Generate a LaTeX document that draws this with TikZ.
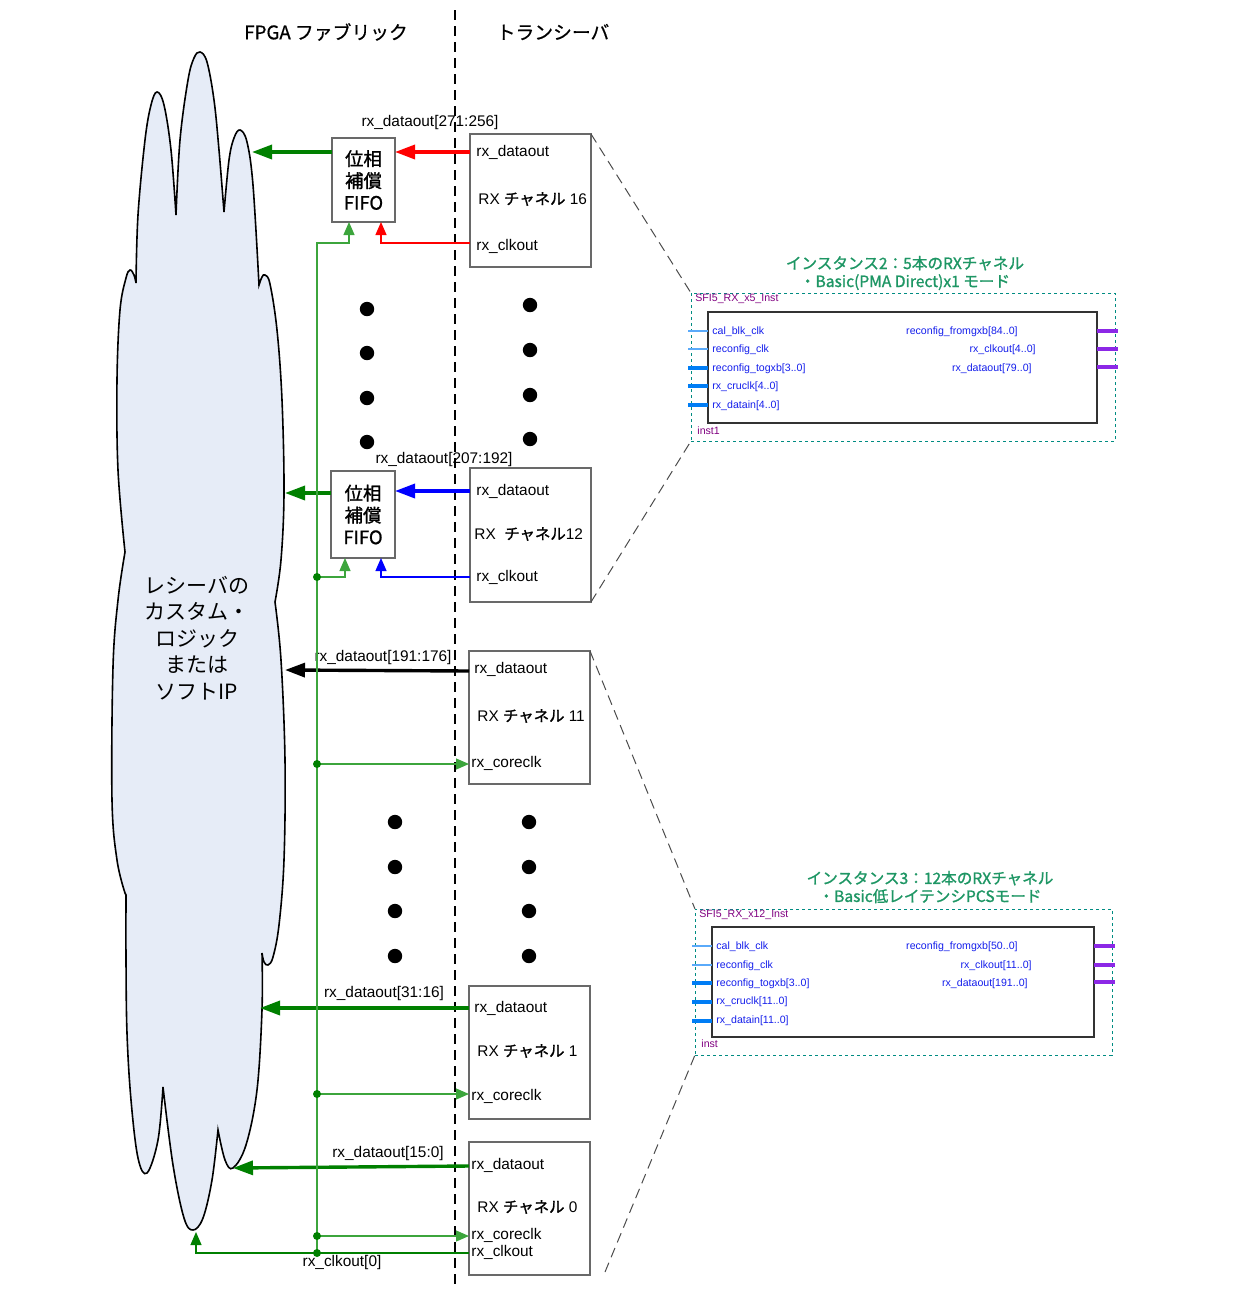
\documentclass[tikz,border=0pt]{standalone}
\usepackage{fontspec}
\setmainfont{Liberation Sans}
\newfontfamily\jp{Noto Sans CJK JP}
\newfontfamily\jpm[FakeBold=1.2]{Noto Sans CJK JP}
\newfontfamily\jph[FakeBold=0.6]{Noto Sans CJK JP}
\usetikzlibrary{arrows.meta,calc}
\definecolor{cloudfill}{RGB}{230,236,247}
\definecolor{dgreen}{RGB}{0,128,0}
\definecolor{lgreen}{RGB}{60,165,60}
\definecolor{tealbox}{RGB}{0,140,130}
\definecolor{ttlgreen}{RGB}{30,150,100}
\definecolor{pintxt}{RGB}{20,30,235}
\definecolor{lblue}{RGB}{90,170,250}
\definecolor{mblue}{RGB}{0,125,245}
\definecolor{purp}{RGB}{128,0,128}
\definecolor{pinpurp}{RGB}{140,40,230}
\definecolor{boxgray}{RGB}{105,105,105}
\newcommand{\chn}[1]{RX {\jpm チャネル} #1}
\begin{document}
\begin{tikzpicture}[x=0.5pt,y=-0.5pt,
  chbox/.style={draw=boxgray,line width=0.7pt,minimum width=60.5pt,minimum height=66.5pt,inner sep=0pt,outer sep=0pt},
  fifobox/.style={draw=boxgray,line width=0.7pt,minimum width=31.5pt,minimum height=42pt,inner sep=0pt,outer sep=0pt,align=center,font=\jpm\fontsize{9.2}{11}\selectfont},
  lbl/.style={font=\fontsize{7.7}{9}\selectfont,inner sep=0pt,anchor=west},
  toplbl/.style={font=\fontsize{7.7}{9}\selectfont,inner sep=0pt},
  hdr/.style={font=\jph\fontsize{9.4}{11}\selectfont,inner sep=0pt},
  bus/.style={line width=1.7pt,-{Triangle[length=10pt,width=7pt]}},
  sig/.style={line width=0.6pt,-{Triangle[length=6.5pt,width=5.5pt]}},
  bigdot/.style={fill=black},
  jdot/.style={fill=dgreen},
  diag/.style={draw=black!70,line width=0.5pt,dash pattern=on 5pt off 3pt},
  outbox/.style={draw=tealbox,line width=0.5pt,dash pattern=on 1.5pt off 1.5pt,inner sep=0pt,outer sep=0pt},
  inbox/.style={draw=black!80,line width=0.6pt,inner sep=0pt,outer sep=0pt},
  pinl/.style={font=\fontsize{5.3}{6}\selectfont,text=pintxt,inner sep=0pt,anchor=west},
  pinr/.style={font=\fontsize{5.3}{6}\selectfont,text=pintxt,inner sep=0pt,anchor=east},
  instl/.style={font=\fontsize{5.3}{6}\selectfont,text=purp,inner sep=0pt,anchor=west},
  ttl/.style={font=\jpm\fontsize{7.8}{9}\selectfont,text=ttlgreen,align=center,inner sep=0pt},
  thinpin/.style={draw=lblue,line width=0.6pt},
  thickpin/.style={draw=mblue,line width=1.8pt},
  rpin/.style={draw=pinpurp,line width=1.8pt}
]
\useasboundingbox (0,0) rectangle (1257,1296);

% ---------- cloud ----------
\filldraw[fill=cloudfill,draw=black,line width=0.8pt]
  plot[smooth,tension=0.6] coordinates {(136,283) (138,215) (145,140) (151,105) (157,92) (164,105) (171,150) (176,215)}
  -- plot[smooth,tension=0.6] coordinates {(176,215) (180,140) (188,80) (194,58) (200,52) (207,62) (214,100) (219,150) (224,212)}
  -- plot[smooth,tension=0.6] coordinates {(224,212) (229,160) (234,138) (240,130) (247,142) (253,185) (259,285)}
  -- plot[smooth,tension=0.6] coordinates {(259,285) (262,277) (265,275) (270,284) (277,330) (282,400) (284,493) (281,560) (275,602)}
  -- plot[smooth,tension=0.6] coordinates {(275,602) (281,660) (285,760) (284,860) (279,925) (273,957) (268,965) (264,962) (262,953)}
  -- plot[smooth,tension=0.6] coordinates {(262,953) (262,1010) (257,1090) (246,1145) (233,1168) (225,1160) (218,1130)}
  -- plot[smooth,tension=0.6] coordinates {(218,1130) (212,1180) (203,1218) (193,1230) (184,1218) (173,1165) (163,1087)}
  -- plot[smooth,tension=0.6] coordinates {(163,1087) (158,1140) (147,1173) (138,1158) (131,1100) (127,1033) (126,960) (126,895)}
  -- plot[smooth,tension=0.6] coordinates {(125,893) (117,860) (112,800) (113,667) (118,600) (125,552)}
  -- plot[smooth,tension=0.6] coordinates {(125,552) (118,470) (117,380) (120,310) (126,278) (130,270) (134,275) (136,283)}
  -- cycle;
\node[font=\jp\fontsize{10.5}{13.2}\selectfont,align=center,inner sep=0pt] (cloudtxt) at (197,638)
  {レシーバの\\カスタム・\\ロジック\\または\\ソフトIP};

\coordinate (c16) at (252,152);
\coordinate (c12) at (285,493);
\coordinate (c11) at (285,670);
\coordinate (c1) at (260,1008);
\coordinate (c0) at (233,1168);
\coordinate (cbot) at (196,1232);

% ---------- header and divider ----------
\draw[line width=0.6pt,dash pattern=on 5pt off 3pt] (455,10) -- (455,1285);
\node[hdr] (hfpga) at (326,32) {FPGA ファブリック};
\node[hdr] (htr) at (553,32) {トランシーバ};

% ---------- channel boxes ----------
\node[chbox] (ch16) at (530.5,200.5) {};
\node[lbl] (ch16d) at (476,152) {rx\_dataout};
\node[lbl] (ch16n) at (478,199) {\chn{16}};
\node[lbl] (ch16c) at (476,246) {rx\_clkout};

\node[chbox,minimum height=67pt] (ch12) at (530.5,535) {};
\node[lbl] (ch12d) at (476,491) {rx\_dataout};
\node[lbl] (ch12n) at (474,534) {RX \ {\jpm チャネル}12};
\node[lbl] (ch12c) at (476,577) {rx\_clkout};

\node[chbox] (ch11) at (529.5,717.5) {};
\node[lbl] (ch11d) at (474,669) {rx\_dataout};
\node[lbl] (ch11n) at (477,716) {\chn{11}};
\node[lbl] (ch11c) at (471,763) {rx\_coreclk};

\node[chbox] (ch1) at (529.5,1052.5) {};
\node[lbl] (ch1d) at (474,1008) {rx\_dataout};
\node[lbl] (ch1n) at (477,1051) {\chn{1}};
\node[lbl] (ch1c) at (471,1096) {rx\_coreclk};

\node[chbox] (ch0) at (529.5,1208.5) {};
\node[lbl] (ch0d) at (471,1165) {rx\_dataout};
\node[lbl] (ch0n) at (477,1207) {\chn{0}};
\node[lbl] (ch0k) at (471,1235) {rx\_coreclk};
\node[lbl] (ch0c) at (471,1252) {rx\_clkout};

% ---------- FIFOs ----------
\node[fifobox] (f1) at (363.5,180) {位相\\補償\\FIFO};
\node[fifobox,minimum width=32pt,minimum height=43.5pt] (f2) at (363,514.5) {位相\\補償\\FIFO};

% ---------- bus labels ----------
\node[toplbl] (l16) at (430,123) {rx\_dataout[271:256]};
\node[toplbl] (l12) at (444,460) {rx\_dataout[207:192]};
\node[toplbl] (l11) at (383,658) {rx\_dataout[191:176]};
\node[toplbl] (l1) at (384,994) {rx\_dataout[31:16]};
\node[toplbl] (l0) at (388,1154) {rx\_dataout[15:0]};
\node[toplbl] (lclk) at (342,1263) {rx\_clkout[0]};

% ---------- data arrows ----------
\draw[bus,red] (ch16.west |- 0,152) -- (f1.east |- 0,152);
\draw[bus,dgreen] (f1.west |- 0,152) -- (c16);
\draw[bus,blue] (ch12.west |- 0,491) -- (f2.east |- 0,491);
\draw[bus,dgreen] (f2.west |- 0,493) -- (c12);
\draw[bus,black] (ch11.west |- 0,671) -- (c11);
\draw[bus,dgreen] (ch1.west |- 0,1008) -- (c1);
\draw[bus,dgreen] (ch0.west |- 0,1166) -- (c0);

% ---------- clock lines ----------
\draw[sig,red] (ch16.west |- 0,243) -- (381,243) -- (f1.south -| 381,0);
\draw[sig,blue] (ch12.west |- 0,577) -- (381,577) -- (f2.south -| 381,0);

\coordinate (j12) at (317,577);
\coordinate (j11) at (317,764);
\coordinate (j1) at (317,1094);
\coordinate (j0a) at (317,1236);
\coordinate (j0b) at (317,1253);
\draw[sig,lgreen] (j0b) -- (317,243) -- (349,243) -- (f1.south -| 349,0);
\draw[sig,lgreen] (j12) -- (345,577) -- (f2.south -| 345,0);
\draw[sig,lgreen] (j11) -- (ch11.west |- j11);
\draw[sig,lgreen] (j1) -- (ch1.west |- j1);
\draw[sig,lgreen] (j0a) -- (ch0.west |- j0a);
\draw[sig,dgreen] (ch0.west |- j0b) -- (cbot |- j0b) -- (cbot);
\foreach \j in {j12,j11,j1,j0a,j0b} \fill[jdot] (\j) circle[radius=2pt];

% ---------- big dots ----------
\foreach \y in {309,353,398,442} \fill[bigdot] (367,\y) circle[radius=3.6pt];
\foreach \y in {305,350,395,439} \fill[bigdot] (530,\y) circle[radius=3.6pt];
\foreach \y in {822,867,911,956} {\fill[bigdot] (395,\y) circle[radius=3.6pt]; \fill[bigdot] (529,\y) circle[radius=3.6pt];}

% ---------- instance 2 ----------
\node[ttl] (t2) at (905,273) {インスタンス2：5本のRXチャネル\\・Basic(PMA Direct)x1 モード};
\node[outbox,minimum width=212pt,minimum height=74pt] (o2) at (903,367) {};
\node[inbox,minimum width=194.5pt,minimum height=55.5pt] (i2) at (902.5,367.5) {};
\node[instl] (n2) at (695,299) {SFI5\_RX\_x5\_Inst};
\node[instl] (n2b) at (697,431) {inst1};
\draw[thinpin] (i2.west |- 0,331) -- ++(-20,0);
\draw[thinpin] (i2.west |- 0,349) -- ++(-20,0);
\draw[thickpin] (i2.west |- 0,368) -- ++(-20,0);
\draw[thickpin] (i2.west |- 0,386) -- ++(-20,0);
\draw[thickpin] (i2.west |- 0,405) -- ++(-20,0);
\node[pinl] at (712,332) {cal\_blk\_clk};
\node[pinl] at (712,350) {reconfig\_clk};
\node[pinl] at (712,369) {reconfig\_togxb[3..0]};
\node[pinl] at (712,387) {rx\_cruclk[4..0]};
\node[pinl] at (712,406) {rx\_datain[4..0]};
\draw[rpin] (i2.east |- 0,331) -- ++(21,0);
\draw[rpin] (i2.east |- 0,349) -- ++(21,0);
\draw[rpin] (i2.east |- 0,367) -- ++(21,0);
\node[pinr] at (1018,332) {reconfig\_fromgxb[84..0]};
\node[pinr] at (1036,350) {rx\_clkout[4..0]};
\node[pinr] at (1032,369) {rx\_dataout[79..0]};

% ---------- instance 3 ----------
\node[ttl] (t3) at (930,887) {インスタンス3：12本のRXチャネル\\・Basic低レイテンシPCSモード};
\node[outbox,minimum width=208.5pt,minimum height=73pt] (o3) at (903.5,982) {};
\node[inbox,minimum width=191pt,minimum height=55pt] (i3) at (903,982) {};
\node[instl] (n3) at (699,915) {SFI5\_RX\_x12\_Inst};
\node[instl] (n3b) at (701,1044) {inst};
\draw[thinpin] (i3.west |- 0,946) -- ++(-20,0);
\draw[thinpin] (i3.west |- 0,965) -- ++(-20,0);
\draw[thickpin] (i3.west |- 0,983) -- ++(-20,0);
\draw[thickpin] (i3.west |- 0,1002) -- ++(-20,0);
\draw[thickpin] (i3.west |- 0,1021) -- ++(-20,0);
\node[pinl] at (716,947) {cal\_blk\_clk};
\node[pinl] at (716,966) {reconfig\_clk};
\node[pinl] at (716,984) {reconfig\_togxb[3..0]};
\node[pinl] at (716,1002) {rx\_cruclk[11..0]};
\node[pinl] at (716,1021) {rx\_datain[11..0]};
\draw[rpin] (i3.east |- 0,946) -- ++(21,0);
\draw[rpin] (i3.east |- 0,965) -- ++(21,0);
\draw[rpin] (i3.east |- 0,982) -- ++(21,0);
\node[pinr] at (1018,947) {reconfig\_fromgxb[50..0]};
\node[pinr] at (1032,966) {rx\_clkout[11..0]};
\node[pinr] at (1028,984) {rx\_dataout[191..0]};

% ---------- zoom lines ----------
\coordinate (z0) at (605,1272);
\draw[diag] (ch16.north east) -- (o2.north west);
\draw[diag] (ch12.south east) -- (o2.south west);
\draw[diag] (ch11.north east) -- (o3.north west);
\draw[diag] (z0) -- (o3.south west);
\end{tikzpicture}
\end{document}
